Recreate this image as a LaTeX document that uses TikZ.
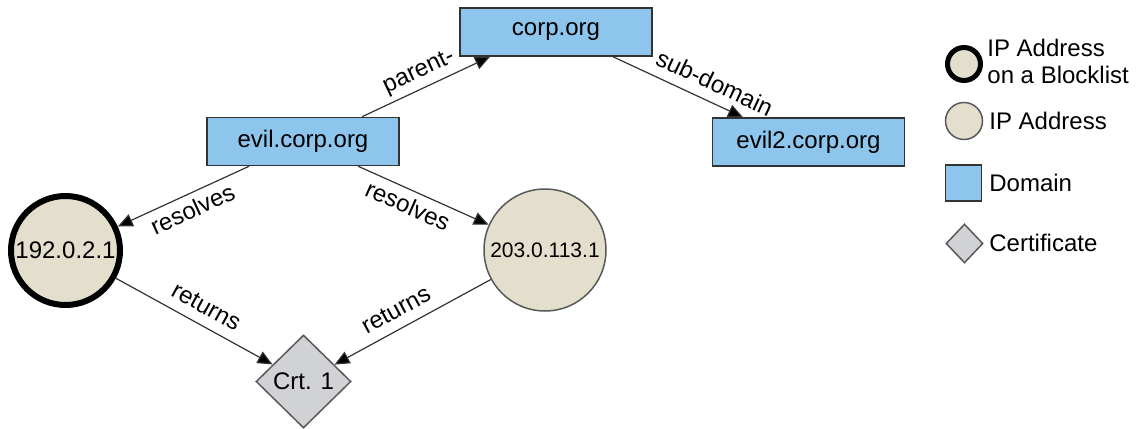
\documentclass[tikz,border=0pt]{standalone}
\usepackage{fontspec}
\setmainfont{Liberation Sans}
\usetikzlibrary{arrows.meta,shapes.geometric}
\definecolor{domainblue}{HTML}{8EC5EC}
\definecolor{ipbeige}{HTML}{E4DECD}
\definecolor{certgray}{HTML}{D1D2D5}
\definecolor{edgegray}{HTML}{333333}
\tikzset{
    domainbox/.style={draw=edgegray, fill=domainblue, line width=0.75pt, minimum width=96pt, minimum height=24pt, inner sep=0pt},
    ipnode/.style={circle, draw=black!65, fill=ipbeige, line width=0.75pt, inner sep=0pt},
    blockednode/.style={ipnode, draw=black, line width=3pt},
    certnode/.style={diamond, draw=black!65, fill=certgray, line width=0.75pt, inner sep=0pt},
    rel/.style={draw=edgegray, line width=0.6pt, -{Triangle[length=7.5pt,width=6.5pt,fill=black]}},
    rellabel/.style={sloped, inner sep=3.8pt, text height=1.5ex, text depth=0.25ex},
    legendtext/.style={anchor=west, align=left, inner sep=0pt}
}
\newcommand{\legendText}[4]{
    \node[legendtext] (#1) at (#2,#3) {#4}
}

\begin{document}
\begin{tikzpicture}[x=0.5pt, y=-0.5pt, font=\fontsize{12}{13.5}\selectfont]
            \useasboundingbox (0,0) rectangle (1137,429);

            \node[domainbox] (corp) at (556,32) {corp.org};
            \node[domainbox] (evil) at (303,141.5) {evil.corp.org};
            \node[domainbox] (eviltwo) at (808.5,142) {evil2.corp.org};
            \node[blockednode, minimum size=54.5pt] (ipone) at (65.5,250.5) {192.0.2.1};
            \node[ipnode, minimum size=61pt, font=\fontsize{10.5}{12}\selectfont] (iptwo) at (545,250) {203.0.113.1};
            \node[certnode, minimum width=47.5pt, minimum height=46.5pt] (crt) at (303.5,381.5) {Crt. 1};

            \draw[rel] ([xshift=29.5pt]evil.north) -- node[rellabel, above, pos=0.5] {parent-} ([xshift=-33pt]corp.south);
            \draw[rel] ([xshift=28.5pt]corp.south) -- node[rellabel, above, pos=0.72] {sub-domain} ([xshift=-32.75pt]eviltwo.north);
            \draw[rel] (evil) -- node[rellabel, below, pos=0.48] {resolves} (ipone);
            \draw[rel] (evil) -- node[rellabel, below, pos=0.43] {resolves} (iptwo);
            \draw[rel] (ipone) -- node[rellabel, above, pos=0.52] {returns} (crt);
            \draw[rel] (iptwo) -- node[rellabel, above, pos=0.55] {returns} (crt);

            \node[blockednode, line width=2.5pt, minimum size=16.5pt] (keyblocked) at (964,64) {};
            \node[ipnode, minimum size=18.5pt] (keyip) at (964,121) {};
            \node[domainbox, minimum width=18pt, minimum height=18pt] (keydomain) at (963.5,183) {};
            \node[certnode, minimum width=18.5pt, minimum height=19.5pt] (keycert) at (964.5,243.5) {};

            \legendText{keyblockedtext}{987}{61.5}{IP Address\\on a Blocklist};
            \legendText{keyiptext}{989}{121}{IP Address};
            \legendText{keydomaintext}{989}{183}{Domain};
            \legendText{keycerttext}{989}{243}{Certificate};

\end{tikzpicture}
\end{document}
